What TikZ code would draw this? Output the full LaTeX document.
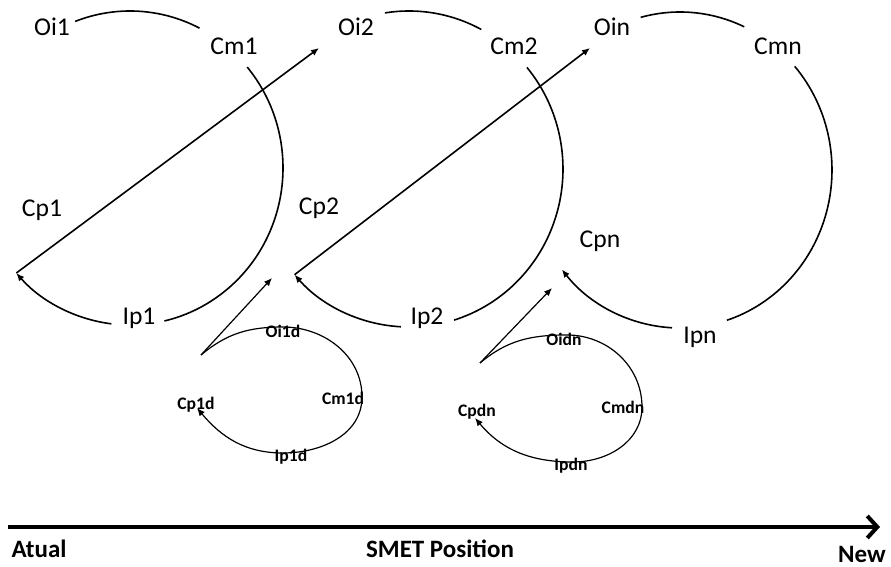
\documentclass[tikz,border=0pt]{standalone}
\usepackage{fontspec}
\setmainfont{Carlito}
\usepackage{tikz}
\usetikzlibrary{arrows.meta}

\begin{document}
\begin{tikzpicture}[x=0.5pt,y=0.5pt,
  >={Latex[length=4pt,width=3.4pt]},
  stage/.style={line width=0.8pt},
  sub/.style={line width=0.6pt},
  bigtxt/.style={font=\fontsize{12.8}{15}\selectfont,inner sep=0pt},
  subtxt/.style={font=\bfseries\fontsize{8.8}{10}\selectfont,inner sep=0pt},
  axistxt/.style={font=\bfseries\fontsize{12.5}{15}\selectfont,inner sep=0pt}]
\useasboundingbox (0,0) rectangle (891,567);

% first position
\coordinate (c1) at (130,399);
\draw[stage] (c1)++(111:153 and 157) arc [start angle=111, end angle=63, x radius=153, y radius=157];
\draw[stage] (c1)++(40:153 and 157) arc [start angle=40, end angle=-77, x radius=153, y radius=157];
\draw[stage,->] (c1)++(-97:153 and 157) arc [start angle=-97, end angle=-138, x radius=153, y radius=157] coordinate (cp1end);
\node[bigtxt] (oi1) at (52,540) {Oi1};
\node[bigtxt] (cm1) at (234,521) {Cm1};
\node[bigtxt] (ip1) at (139,249) {Ip1};
\node[bigtxt] (cp1) at (42,357) {Cp1};

% second position
\coordinate (c2) at (409,398);
\draw[stage] (c2)++(99:154 and 158) arc [start angle=99, end angle=62, x radius=154, y radius=158];
\draw[stage] (c2)++(40:154 and 158) arc [start angle=40, end angle=-73, x radius=154, y radius=158];
\draw[stage,->] (c2)++(-93:154 and 158) arc [start angle=-93, end angle=-138, x radius=154, y radius=158] coordinate (cp2end);
\node[bigtxt] (oi2) at (356,540) {Oi2};
\node[bigtxt] (cm2) at (514,521) {Cm2};
\node[bigtxt] (ip2) at (427,249) {Ip2};
\node[bigtxt] (cp2) at (319,359) {Cp2};

% n-th position
\coordinate (c3) at (680,397);
\draw[stage] (c3)++(105:152 and 158) arc [start angle=105, end angle=65, x radius=152, y radius=158];
\draw[stage] (c3)++(41:152 and 158) arc [start angle=41, end angle=-72, x radius=152, y radius=158];
\draw[stage,->] (c3)++(-93:152 and 158) arc [start angle=-93, end angle=-141, x radius=152, y radius=158] coordinate (cpnend);
\node[bigtxt] (oin) at (612,540) {Oin};
\node[bigtxt] (cmn) at (778,521) {Cmn};
\node[bigtxt] (ipn) at (700,230) {Ipn};
\node[bigtxt] (cpn) at (600,326) {Cpn};

% moves to the next position
\coordinate (to2) at (319,519);
\coordinate (ton) at (590,519);
\draw[stage,->] (cp1end) -- (to2);
\draw[stage,->] (cp2end) -- (ton);

% derived cycles
\coordinate (s1) at (201,212);
\coordinate (s1top) at (283,240);
\coordinate (s1right) at (362,170);
\coordinate (s1bot) at (283,114);
\coordinate (s1end) at (197,159);
\coordinate (s1tip) at (272,289);
\draw[sub,->] (s1) to[out=40,in=180] (s1top) to[out=0,in=90] (s1right)
  to[out=-90,in=0] (s1bot) to[out=180,in=-50] (s1end);
\draw[sub,->] (s1) -- (s1tip);
\node[subtxt] (oi1d) at (283,236) {Oi1d};
\node[subtxt] (cm1d) at (343,169) {Cm1d};
\node[subtxt] (ip1d) at (291,110) {Ip1d};
\node[subtxt] (cp1d) at (196,162) {Cp1d};

\coordinate (sn) at (480,204);
\coordinate (sntop) at (567,232);
\coordinate (snright) at (642,160);
\coordinate (snbot) at (573,105);
\coordinate (snend) at (475,149);
\coordinate (sntip) at (552,279);
\draw[sub,->] (sn) to[out=40,in=180] (sntop) to[out=0,in=90] (snright)
  to[out=-90,in=0] (snbot) to[out=180,in=-50] (snend);
\draw[sub,->] (sn) -- (sntip);
\node[subtxt] (oidn) at (564,228) {Oidn};
\node[subtxt] (cmdn) at (623,160) {Cmdn};
\node[subtxt] (ipdn) at (571,101) {Ipdn};
\node[subtxt] (cpdn) at (477,155) {Cpdn};

% position axis
\coordinate (ax0) at (8,40);
\coordinate (ax1) at (880,40);
\draw[line width=2pt,-{Straight Barb[length=5pt,width=11pt]}] (ax0) -- (ax1);
\node[axistxt] (atual) at (39,18) {Atual};
\node[axistxt] (smet) at (440,18) {SMET Position};
\node[axistxt] (new) at (862,13) {New};
\end{tikzpicture}
\end{document}
